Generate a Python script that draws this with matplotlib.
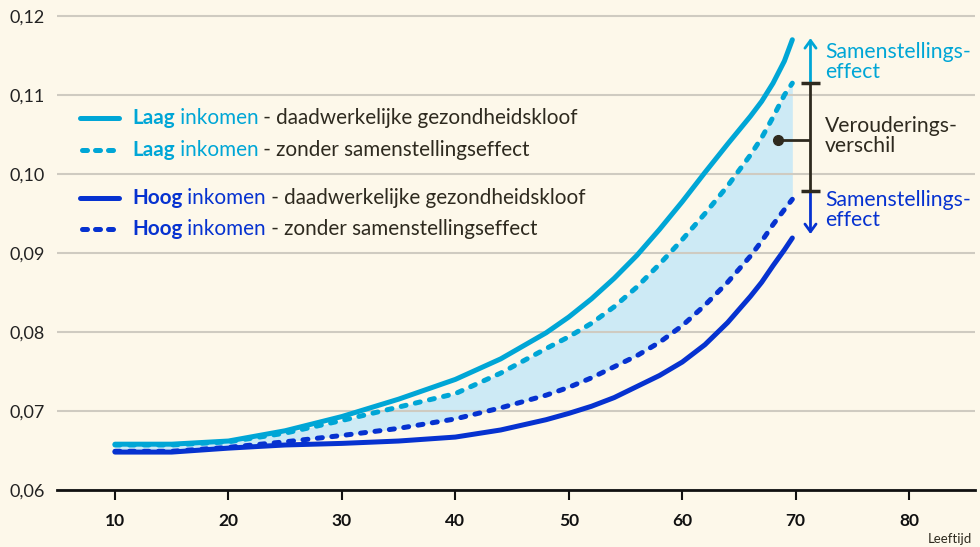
import numpy as np
import matplotlib
matplotlib.use("Agg")
import matplotlib.pyplot as plt

plt.rcParams['font.family'] = ['Lato', 'DejaVu Sans']

# leeftijd (age) and the four curves
ages = [10, 15, 20, 25, 30, 35, 40, 44, 48, 50, 52, 54, 56, 58, 60, 62, 64, 66, 67, 68, 69, 69.7]
laag_actual = [0.0658, 0.0658, 0.0662, 0.0675, 0.0693, 0.0715, 0.0740, 0.0766, 0.0799, 0.0819,
               0.0842, 0.0868, 0.0897, 0.0930, 0.0965, 0.1002, 0.1038, 0.1073, 0.1092, 0.1115,
               0.1143, 0.1170]
laag_zonder = [0.0657, 0.0657, 0.0661, 0.0672, 0.0688, 0.0705, 0.0722, 0.0748, 0.0779, 0.0794,
               0.0811, 0.0832, 0.0857, 0.0886, 0.0917, 0.0950, 0.0985, 0.1024, 0.1046, 0.1072,
               0.1100, 0.1115]
hoog_zonder = [0.0649, 0.0649, 0.0654, 0.0661, 0.0669, 0.0678, 0.0690, 0.0704, 0.0720, 0.0730,
               0.0742, 0.0756, 0.0770, 0.0787, 0.0808, 0.0834, 0.0863, 0.0896, 0.0915, 0.0936,
               0.0955, 0.0968]
hoog_actual = [0.0648, 0.0648, 0.0653, 0.0657, 0.0659, 0.0662, 0.0667, 0.0676, 0.0689, 0.0697,
               0.0706, 0.0717, 0.0731, 0.0745, 0.0762, 0.0784, 0.0812, 0.0845, 0.0863, 0.0884,
               0.0904, 0.0919]

x_ticks = [10, 20, 30, 40, 50, 60, 70, 80]
y_ticks = [0.06, 0.07, 0.08, 0.09, 0.10, 0.11, 0.12]

legend_rows = [
    ("Laag", " inkomen", " - daadwerkelijke gezondheidskloof", "light", "-"),
    ("Laag", " inkomen", " - zonder samenstellingseffect", "light", "--"),
    ("Hoog", " inkomen", " - daadwerkelijke gezondheidskloof", "dark", "-"),
    ("Hoog", " inkomen", " - zonder samenstellingseffect", "dark", "--"),
]

BG = "#fdf8ea"
LIGHT = "#00a6d6"
DARK = "#0632d0"
FILL = "#cdeaf5"
INK = "#2e2a1f"
GRID = "#cfcbc1"
colors = {"light": LIGHT, "dark": DARK}

LW = 3.6
DASH = (1.0, 1.9)

fig = plt.figure(figsize=(9.8, 5.47), dpi=100, facecolor=BG)
ax = fig.add_axes([57 / 980, 57 / 547, 918 / 980, 490 / 547])
ax.set_facecolor(BG)

ax.fill_between(ages, hoog_zonder, laag_zonder, color=FILL, lw=0, zorder=1)
ax.plot(ages, laag_actual, color=LIGHT, lw=LW, solid_capstyle='round',
        solid_joinstyle='round', zorder=3)
ax.plot(ages, laag_zonder, color=LIGHT, lw=LW, ls=(0, DASH), dash_capstyle='round', zorder=3)
ax.plot(ages, hoog_zonder, color=DARK, lw=LW, ls=(0, DASH), dash_capstyle='round', zorder=3)
ax.plot(ages, hoog_actual, color=DARK, lw=LW, solid_capstyle='round',
        solid_joinstyle='round', zorder=3)

ax.set_xlim(4.89, 85.8)
ax.set_ylim(0.06, 0.12203)

ax.set_yticks(y_ticks)
ax.set_yticklabels([f"{v:.2f}".replace(".", ",") for v in y_ticks])
ax.tick_params(axis='y', length=0, pad=34.5, labelsize=13, labelcolor="#222222")
for lab in ax.get_yticklabels():
    lab.set_ha('left')
ax.grid(axis='y', color=GRID, lw=1.5, zorder=0)

ax.set_xticks(x_ticks)
ax.tick_params(axis='x', direction='out', length=7.5, width=1.5, color="#111111",
               pad=9, labelsize=12.5, labelcolor="#111111")
for lab in ax.get_xticklabels():
    lab.set_fontweight('bold')

for s in ['top', 'right', 'left']:
    ax.spines[s].set_visible(False)
ax.spines['bottom'].set_linewidth(2)
ax.spines['bottom'].set_color("#111111")
ax.spines['bottom'].set_zorder(4)

fig.text(950 / 980, 1 - 539 / 547, "Leeftijd", fontsize=9.5, color=INK,
         ha='center', va='center')

# legend: manual rows with mixed colour/weight text
row_y = [118, 150, 198, 229]
FS = 14.9
for (bold, reg, rest, key, style), py in zip(legend_rows, row_y):
    yf = 1 - py / 547
    col = colors[key]
    if style == "-":
        ax.plot([80 / 980, 119 / 980], [yf, yf], transform=fig.transFigure,
                color=col, lw=LW, solid_capstyle='round', clip_on=False)
    else:
        ax.plot([82 / 980, 119 / 980], [yf, yf], transform=fig.transFigure,
                color=col, lw=LW, ls=(0, (1.0, 1.6)), dash_capstyle='round', clip_on=False)
    t1 = fig.text(132 / 980, yf, bold, fontsize=FS, fontweight='bold', color=col,
                  va='center', ha='left')
    t2 = ax.annotate(reg, xy=(1, 0), xycoords=t1, va='bottom', ha='left',
                     fontsize=FS, color=col)
    ax.annotate(rest, xy=(1, 0), xycoords=t2, va='bottom', ha='left',
                fontsize=FS, color=INK)

# right-hand annotations
xa = 71.3
ax.annotate('', xy=(xa, 0.1172), xytext=(xa, 0.1117),
            arrowprops=dict(arrowstyle='->,head_width=0.4,head_length=0.55',
                            color=LIGHT, lw=2, shrinkA=0, shrinkB=0))
ax.annotate('', xy=(xa, 0.0924), xytext=(xa, 0.0976),
            arrowprops=dict(arrowstyle='->,head_width=0.4,head_length=0.55',
                            color=DARK, lw=2, shrinkA=0, shrinkB=0))
ax.vlines(xa, 0.0979, 0.1115, color=INK, lw=2, zorder=5)
ax.hlines([0.1115, 0.0979], 70.5, 72.1, color=INK, lw=2.5, zorder=5)
ax.hlines(0.1043, 68.4, xa, color=INK, lw=2, zorder=5)
ax.plot([68.4], [0.1043], 'o', color=INK, ms=7, zorder=6)

AFS = 15.2
ax.text(72.6, 0.1142, "Samenstellings-\neffect", color=LIGHT, fontsize=AFS,
        ha='left', va='center', linespacing=1.0)
ax.text(72.6, 0.1048, "Verouderings-\nverschil", color=INK, fontsize=AFS,
        ha='left', va='center', linespacing=1.0)
ax.text(72.6, 0.0954, "Samenstellings-\neffect", color=DARK, fontsize=AFS,
        ha='left', va='center', linespacing=1.0)

fig.savefig("out.png", dpi=100, facecolor=BG)
